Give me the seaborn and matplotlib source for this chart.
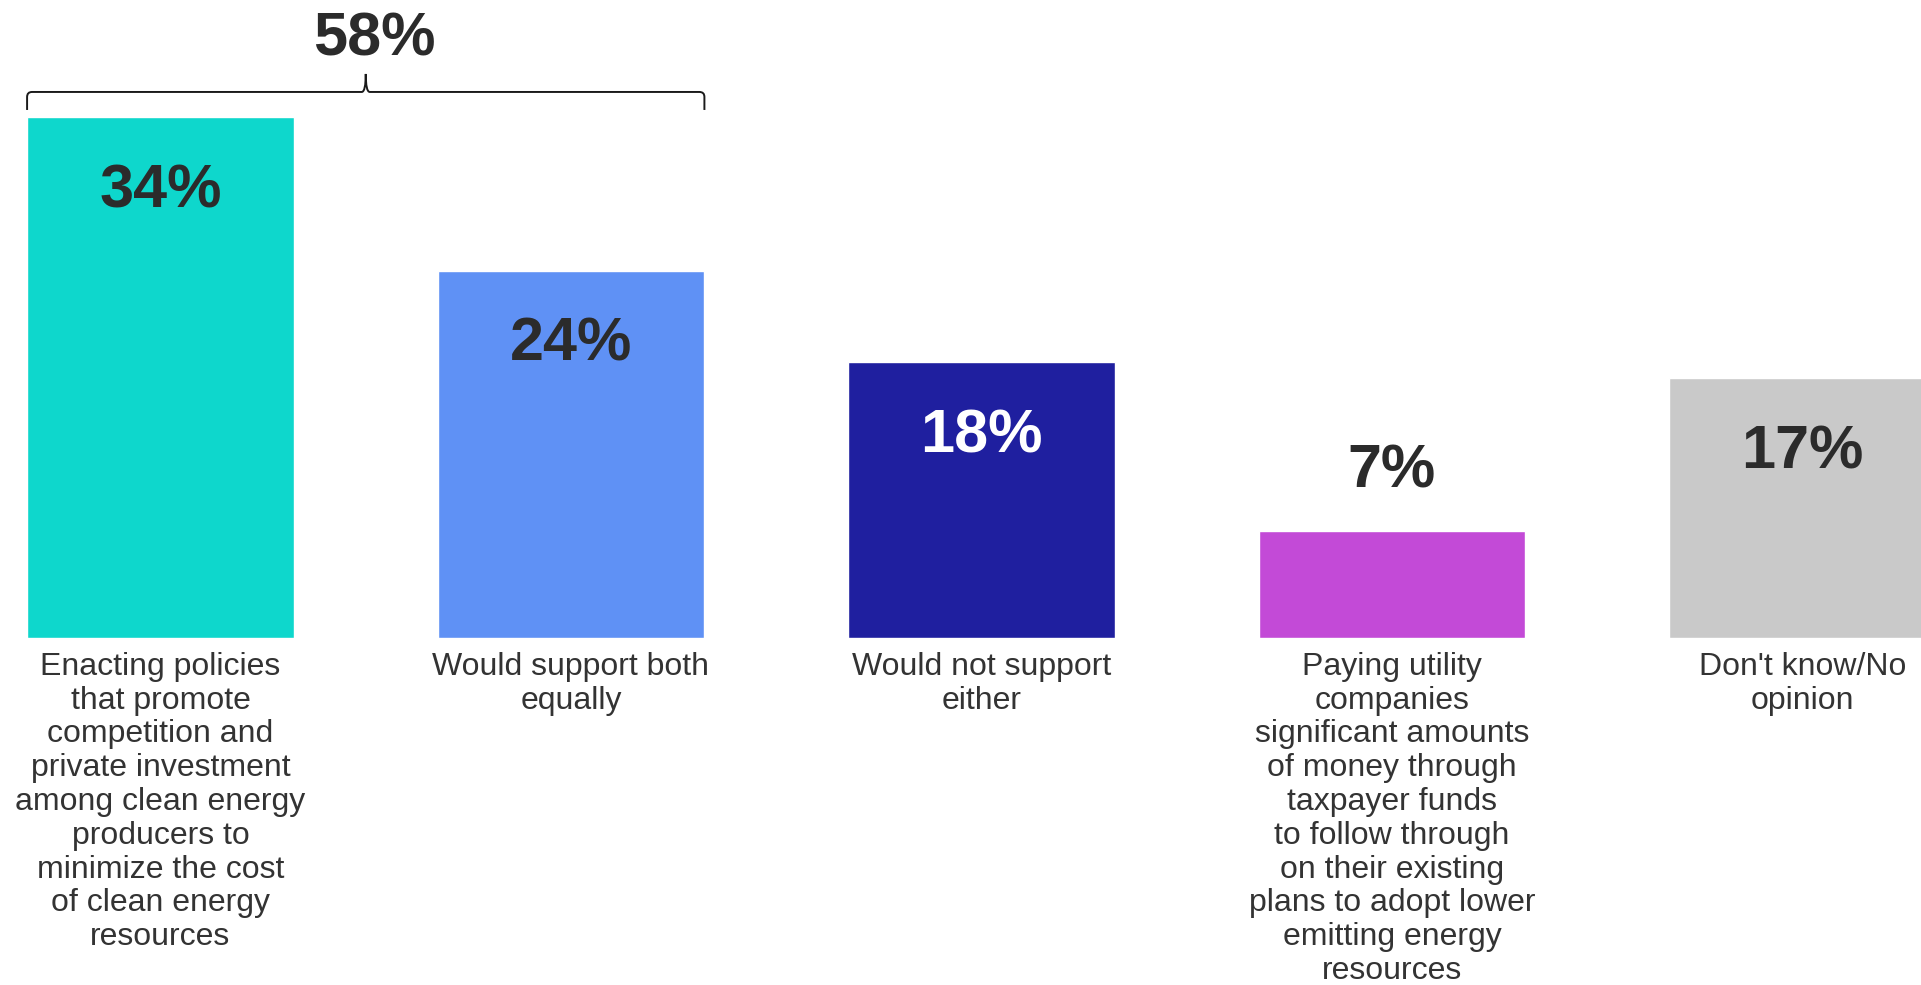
import numpy as np
import pandas as pd
import seaborn as sns
import matplotlib.pyplot as plt
from matplotlib.path import Path
from matplotlib.patches import PathPatch

# ---- data -----------------------------------------------------------------
categories = [
    "Enacting policies\nthat promote\ncompetition and\nprivate investment\namong clean energy\nproducers to\nminimize the cost\nof clean energy\nresources",
    "Would support both\nequally",
    "Would not support\neither",
    "Paying utility\ncompanies\nsignificant amounts\nof money through\ntaxpayer funds\nto follow through\non their existing\nplans to adopt lower\nemitting energy\nresources",
    "Don't know/No\nopinion",
]
values = [34, 24, 18, 7, 17]
bar_colors = ["#0ED7CC", "#5F91F5", "#1F1F9F", "#C34AD7", "#C9C9C9"]
value_text_colors = ["#2B2B2B", "#2B2B2B", "#FFFFFF", "#2B2B2B", "#2B2B2B"]
bracket_members = [0, 1]   # bars summed under the brace

# ---- style ----------------------------------------------------------------
sns.set_theme(style="white")
plt.rcParams["font.family"] = ["Liberation Sans", "DejaVu Sans"]

W, H, DPI = 1921, 985, 100
fig = plt.figure(figsize=(W / DPI, H / DPI), dpi=DPI)
fig.patch.set_facecolor("white")

base_px = 347                      # height of the baseline above the figure bottom
ax = fig.add_axes([0, base_px / H, 1, 1 - base_px / H])

df = pd.DataFrame({"category": categories, "value": values})
sns.barplot(data=df, x="category", y="value", hue="category",
            palette=bar_colors, width=0.65, saturation=1,
            legend=False, ax=ax)

px_per_unit = 410.5
first_center_px = 160.5
ax.set_xlim(-first_center_px / px_per_unit, (W - first_center_px) / px_per_unit)
px_per_pct = 15.31
ax.set_ylim(0, (H - base_px) / px_per_pct)

ax.set_xlabel("")
ax.set_ylabel("")
ax.set_yticks([])
ax.set_xticks(range(len(categories)))
ax.set_xticklabels(categories, fontsize=23, color="#333333", linespacing=1.165)
ax.tick_params(axis="x", length=0, pad=10)
sns.despine(ax=ax, left=True, bottom=True)
ax.set_facecolor("white")

# ---- value labels -----------------------------------------------------------
for i, v in enumerate(values):
    if v >= 10:
        ax.annotate(f"{v}%", xy=(i, v), xytext=(0, -65), textcoords="offset points",
                    ha="center", va="baseline", fontsize=44, fontweight="bold",
                    color=value_text_colors[i])
    else:
        ax.annotate(f"{v}%", xy=(i, v), xytext=(0, 31), textcoords="offset points",
                    ha="center", va="baseline", fontsize=44, fontweight="bold",
                    color=value_text_colors[i])

# ---- curly brace over the combined bars -----------------------------------
half_w = 0.65 / 2
xl = min(bracket_members) - half_w
xr = max(bracket_members) + half_w
xc = (xl + xr) / 2
top = max(values[j] for j in bracket_members)
u = 1 / px_per_pct                 # one pixel in data units (y)
ux = 1 / px_per_unit               # one pixel in data units (x)
y_end = top + 7.5 * u
y_h = top + 25.5 * u
y_tip = top + 43.5 * u
r_end = 5 * ux
r_tip = 4 * ux

verts, codes = [], []
for side in (-1, 1):
    x_out = xl if side < 0 else xr
    inward = 1 if side < 0 else -1
    verts += [(x_out, y_end), (x_out, y_h - 5 * u), (x_out, y_h),
              (x_out + inward * r_end, y_h), (xc - inward * r_tip, y_h),
              (xc, y_h), (xc, y_tip)]
    codes += [Path.MOVETO, Path.LINETO, Path.CURVE3, Path.CURVE3,
              Path.LINETO, Path.CURVE3, Path.CURVE3]
brace = PathPatch(Path(verts, codes), facecolor="none", edgecolor="#1A1A1A",
                  linewidth=1.4, clip_on=False)
ax.add_patch(brace)

total = sum(values[j] for j in bracket_members)
ax.annotate(f"{total}%", xy=(xc, y_tip), xytext=(6, 13.5), textcoords="offset points",
            ha="center", va="baseline", fontsize=44, fontweight="bold",
            color="#2B2B2B", annotation_clip=False)

fig.savefig("out.png", dpi=DPI, facecolor="white")
